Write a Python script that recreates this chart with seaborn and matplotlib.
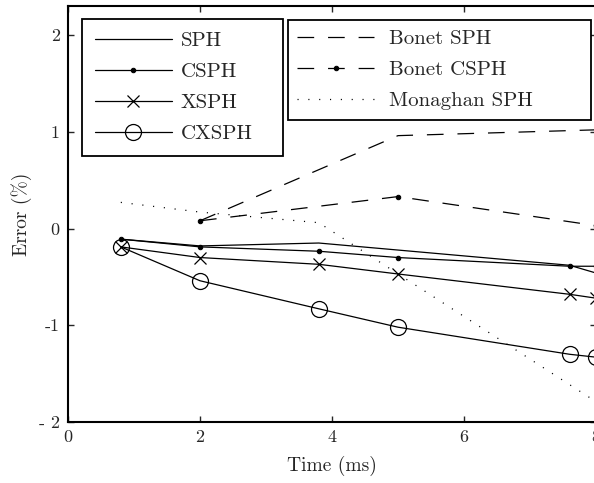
import numpy as np
import pandas as pd
import matplotlib
matplotlib.use("Agg")
import matplotlib.pyplot as plt
import seaborn as sns

# values
t_sph = [0.8, 2.0, 3.8, 7.6, 8.0]
sph = [-0.11, -0.18, -0.15, -0.38, -0.46]

t_std = [0.8, 2.0, 3.8, 5.0, 7.6, 8.0]
csph = [-0.11, -0.19, -0.235, -0.30, -0.39, -0.39]
xsph = [-0.19, -0.30, -0.37, -0.47, -0.68, -0.72]
cxsph = [-0.19, -0.54, -0.83, -1.02, -1.30, -1.33]

t_bonet = [2.0, 5.0, 8.0]
bonet_sph = [0.08, 0.96, 1.02]
bonet_csph = [0.08, 0.33, 0.03]

t_mon = [0.8, 2.0, 3.8, 8.0]
monaghan = [0.27, 0.17, 0.06, -1.79]

x_ticks = [0, 2, 4, 6, 8]
y_ticks = [-2, -1, 0, 1, 2]
y_ticklabels = ["- 2", "-1", "0", "1", "2"]

sns.set_style("ticks")
plt.rcParams["font.family"] = ["cmr10", "DejaVu Serif"]
plt.rcParams["mathtext.fontset"] = "cm"
plt.rcParams["axes.unicode_minus"] = False
plt.rcParams["axes.formatter.use_mathtext"] = True
plt.rcParams["lines.scale_dashes"] = False

fig = plt.figure(figsize=(5.94, 4.83), dpi=100)
# axes runs just past the right edge, like the cropped original
ax = fig.add_axes([68 / 594, 61 / 483, 528 / 594, 416 / 483])

lw = 0.9
sns.lineplot(x=t_sph, y=sph, ax=ax, color="k", lw=lw, label="SPH")
sns.lineplot(x=t_std, y=csph, ax=ax, color="k", lw=lw, marker="o", ms=3.2,
             mec="k", mfc="k", label="CSPH")
sns.lineplot(x=t_std, y=xsph, ax=ax, color="k", lw=lw, marker="x", ms=8,
             mec="k", mew=0.9, label="XSPH")
sns.lineplot(x=t_std, y=cxsph, ax=ax, color="k", lw=lw, marker="o", ms=11.5,
             mfc="none", mec="k", mew=0.9, label="CXSPH")
sns.lineplot(x=t_bonet, y=bonet_sph, ax=ax, color="k", lw=lw,
             linestyle=(0, (12, 10)), label="Bonet SPH")
sns.lineplot(x=t_bonet, y=bonet_csph, ax=ax, color="k", lw=lw,
             linestyle=(0, (12, 10)), marker="o", ms=3.2, mec="k", mfc="k",
             label="Bonet CSPH")
sns.lineplot(x=t_mon, y=monaghan, ax=ax, color="k", lw=0.9,
             linestyle=(0, (0.8, 7)), label="Monaghan SPH")

ax.set_xlim(0, 8)
ax.set_ylim(-2, 2.3)
ax.set_xticks(x_ticks)
ax.set_yticks(y_ticks)
ax.set_yticklabels(y_ticklabels)
ax.tick_params(direction="in", length=4, width=1, top=True, right=True,
               labelsize=13, pad=5)
ax.tick_params(axis="y", pad=6)
for s in ax.spines.values():
    s.set_linewidth(1.5)
    s.set_color("k")
ax.set_xlabel("Time (ms)", fontsize=14, labelpad=8)
ax.set_ylabel("Error (%)", fontsize=14, labelpad=5)

handles, labels = ax.get_legend_handles_labels()

# two boxed legends, wider than their text like the original
leg_kw = dict(frameon=True, fancybox=False, framealpha=1, edgecolor="k",
              fontsize=15, handlelength=3.7, labelspacing=0.6,
              loc="upper left", mode="expand", borderaxespad=0,
              bbox_transform=fig.transFigure)
leg1 = ax.legend(handles[:4], labels[:4],
                 bbox_to_anchor=(82 / 594, 1 - 19 / 483, 201 / 594, 0),
                 handletextpad=0.45, borderpad=0.6, **leg_kw)
leg1.get_frame().set_linewidth(1.3)
ax.add_artist(leg1)
leg2 = ax.legend(handles[4:], labels[4:],
                 bbox_to_anchor=(288 / 594, 1 - 20 / 483, 303 / 594, 0),
                 handletextpad=0.7, borderpad=0.45, **leg_kw)
leg2.get_frame().set_linewidth(1.3)

fig.savefig("out.png", dpi=100)
